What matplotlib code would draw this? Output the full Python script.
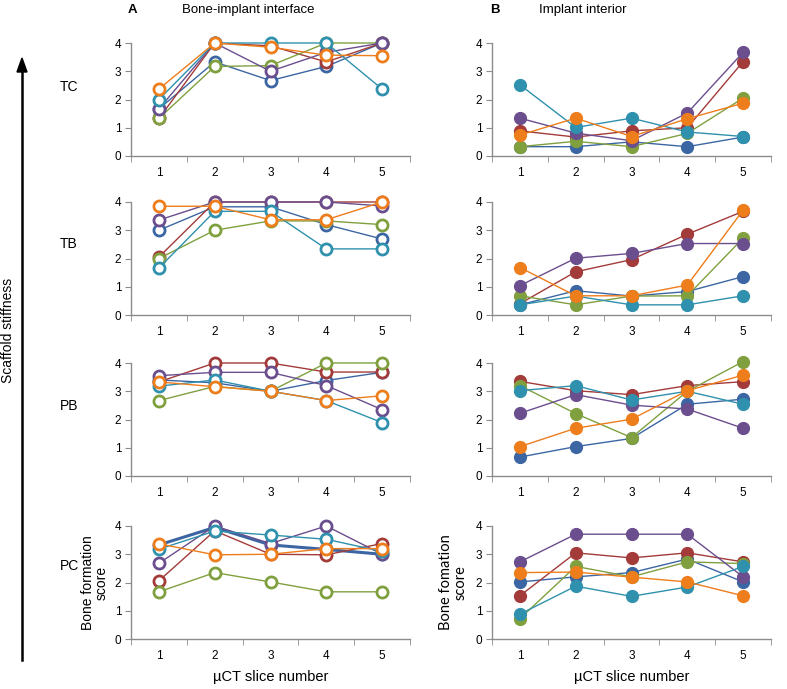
import matplotlib.pyplot as plt
import numpy as np

plt.rcParams['font.family'] = ['Liberation Sans', 'DejaVu Sans']

slices = [1, 2, 3, 4, 5]
rows = ['TC', 'TB', 'PB', 'PC']
colors = ['#3C66A3', '#A23B39', '#80A03F', '#6A4E8E', '#2F91AD', '#EE7D1C']

# bone-implant interface (A), series order: blue, red, green, purple, teal, orange
a_tc = [[1.67, 3.33, 2.67, 3.17, 4.0],
        [1.33, 4.0, 3.9, 3.33, 4.0],
        [1.33, 3.17, 3.2, 4.0, 4.0],
        [1.67, 4.0, 3.0, 3.67, 4.0],
        [2.0, 4.0, 4.0, 4.0, 2.37],
        [2.37, 4.0, 3.85, 3.57, 3.55]]
a_tb = [[3.0, 3.83, 3.83, 3.2, 2.69],
        [2.05, 4.0, 4.0, 4.0, 4.0],
        [2.0, 3.0, 3.33, 3.33, 3.2],
        [3.36, 4.0, 4.0, 4.0, 3.86],
        [1.66, 3.67, 3.67, 2.34, 2.34],
        [3.85, 3.85, 3.37, 3.37, 4.0]]
a_pb = [[3.4, 3.3, 3.0, 3.38, 3.67],
        [3.33, 4.0, 4.0, 3.68, 3.68],
        [2.67, 3.17, 3.0, 4.0, 4.0],
        [3.55, 3.67, 3.67, 3.2, 2.35],
        [3.18, 3.4, 3.0, 2.67, 1.89],
        [3.33, 3.16, 3.0, 2.67, 2.84]]
a_pc = [[3.33, 3.95, 3.33, 3.17, 3.0],
        [2.06, 3.83, 3.0, 2.98, 3.38],
        [1.67, 2.35, 2.02, 1.67, 1.67],
        [2.68, 4.0, 3.38, 4.0, 3.0],
        [3.18, 3.82, 3.68, 3.53, 3.1],
        [3.37, 2.98, 3.0, 3.2, 3.2]]

# implant interior (B)
b_tc = [[0.33, 0.33, 0.5, 0.33, 0.67],
        [0.89, 0.67, 0.89, 1.0, 3.34],
        [0.33, 0.52, 0.33, 0.8, 2.05],
        [1.34, 0.81, 0.54, 1.52, 3.67],
        [2.52, 1.01, 1.34, 0.85, 0.69],
        [0.74, 1.34, 0.69, 1.32, 1.87]]
b_tb = [[0.36, 0.86, 0.67, 0.83, 1.36],
        [0.4, 1.53, 1.96, 2.86, 3.67],
        [0.68, 0.36, 0.67, 0.68, 2.72],
        [1.04, 2.01, 2.18, 2.53, 2.53],
        [0.36, 0.67, 0.36, 0.36, 0.68],
        [1.68, 0.68, 0.68, 1.06, 3.71]]
b_pb = [[0.67, 1.04, 1.33, 2.54, 2.72],
        [3.35, 3.02, 2.88, 3.2, 3.34],
        [3.2, 2.21, 1.36, 3.0, 4.05],
        [2.22, 2.88, 2.51, 2.37, 1.69],
        [3.02, 3.2, 2.69, 3.0, 2.54],
        [1.04, 1.69, 2.01, 3.02, 3.57]]
b_pc = [[2.02, 2.2, 2.35, 2.83, 2.02],
        [1.53, 3.05, 2.87, 3.05, 2.73],
        [0.72, 2.57, 2.2, 2.73, 2.67],
        [2.73, 3.71, 3.71, 3.71, 2.2],
        [0.88, 1.87, 1.51, 1.84, 2.57],
        [2.35, 2.37, 2.19, 2.02, 1.53]]

col_a = [a_tc, a_tb, a_pb, a_pc]
col_b = [b_tc, b_tb, b_pb, b_pc]

fig = plt.figure(figsize=(7.87, 6.89), dpi=100)

W, H = 787, 689
x_left = [131, 492]
ax_w = 279
bottoms = [156, 315, 476, 639]
ax_h = 113


def style_axis(ax):
    ax.set_xlim(0.5, 5.5)
    ax.set_ylim(0, 4)
    for s in ['top', 'right']:
        ax.spines[s].set_visible(False)
    for s in ['left', 'bottom']:
        ax.spines[s].set_color('#8c8c8c')
        ax.spines[s].set_linewidth(1.0)
    ax.set_yticks([0, 1, 2, 3, 4])
    ax.set_xticks(slices)
    ax.set_xticks(np.arange(0.5, 6, 1), minor=True)
    ax.tick_params(axis='x', which='major', length=0, pad=8, labelsize=8.5)
    ax.tick_params(axis='x', which='minor', length=4, color='#8c8c8c', direction='out')
    ax.tick_params(axis='y', length=4, color='#8c8c8c', pad=3, labelsize=8.5)


for r in range(4):
    for c, data in enumerate([col_a, col_b]):
        left = x_left[c] / W
        bottom = 1 - bottoms[r] / H
        ax = fig.add_axes([left, bottom, ax_w / W, ax_h / H])
        style_axis(ax)
        for i, ys in enumerate(data[r]):
            lw = 1.0
            if c == 0 and r == 3 and i == 0:
                lw = 2.2
            if c == 0:
                ax.plot(slices, ys, color=colors[i], lw=lw, marker='o', ms=8,
                        mfc='white', mec=colors[i], mew=2.0, clip_on=False)
            else:
                ax.plot(slices, ys, color=colors[i], lw=lw, marker='o', ms=8.5,
                        mfc=colors[i], mec=colors[i], clip_on=False)
        if r == 3:
            ax.set_xlabel('µCT slice number', fontsize=10.5, labelpad=6)
            if c == 0:
                ax.set_ylabel('Bone formation\nscore', fontsize=10, labelpad=4,
                              linespacing=1.0)
            else:
                ax.set_ylabel('Bone fomation\nscore', fontsize=10.5, labelpad=6,
                              linespacing=1.0, family=['Lato', 'DejaVu Sans'])

# headers
fig.text(128 / W, 1 - 10 / H, 'A', fontsize=9.5, fontweight='bold', va='center')
fig.text(182 / W, 1 - 10 / H, 'Bone-implant interface', fontsize=9.5, va='center')
fig.text(490 / W, 1 - 10 / H, 'B', fontsize=9.5, fontweight='bold', va='center')
fig.text(539 / W, 1 - 10 / H, 'Implant interior', fontsize=9.5, va='center')

row_y = [87, 244, 406, 566]
for lab, y in zip(rows, row_y):
    fig.text(60 / W, 1 - y / H, lab, fontsize=10, va='center')

fig.add_artist(plt.Line2D([22 / W, 22 / W], [1 - 660 / H, 1 - 70 / H],
                          color='black', lw=1.8))
fig.patches.append(plt.Polygon([[22 / W - 5 / W, 1 - 72 / H],
                                [22 / W + 5 / W, 1 - 72 / H],
                                [22 / W, 1 - 58 / H]],
                               closed=True, color='black',
                               transform=fig.transFigure, figure=fig))
fig.text(8 / W, 1 - 330 / H, 'Scaffold stiffness', rotation=90,
         fontsize=10, va='center', ha='center')

fig.savefig('out.png', dpi=100)
